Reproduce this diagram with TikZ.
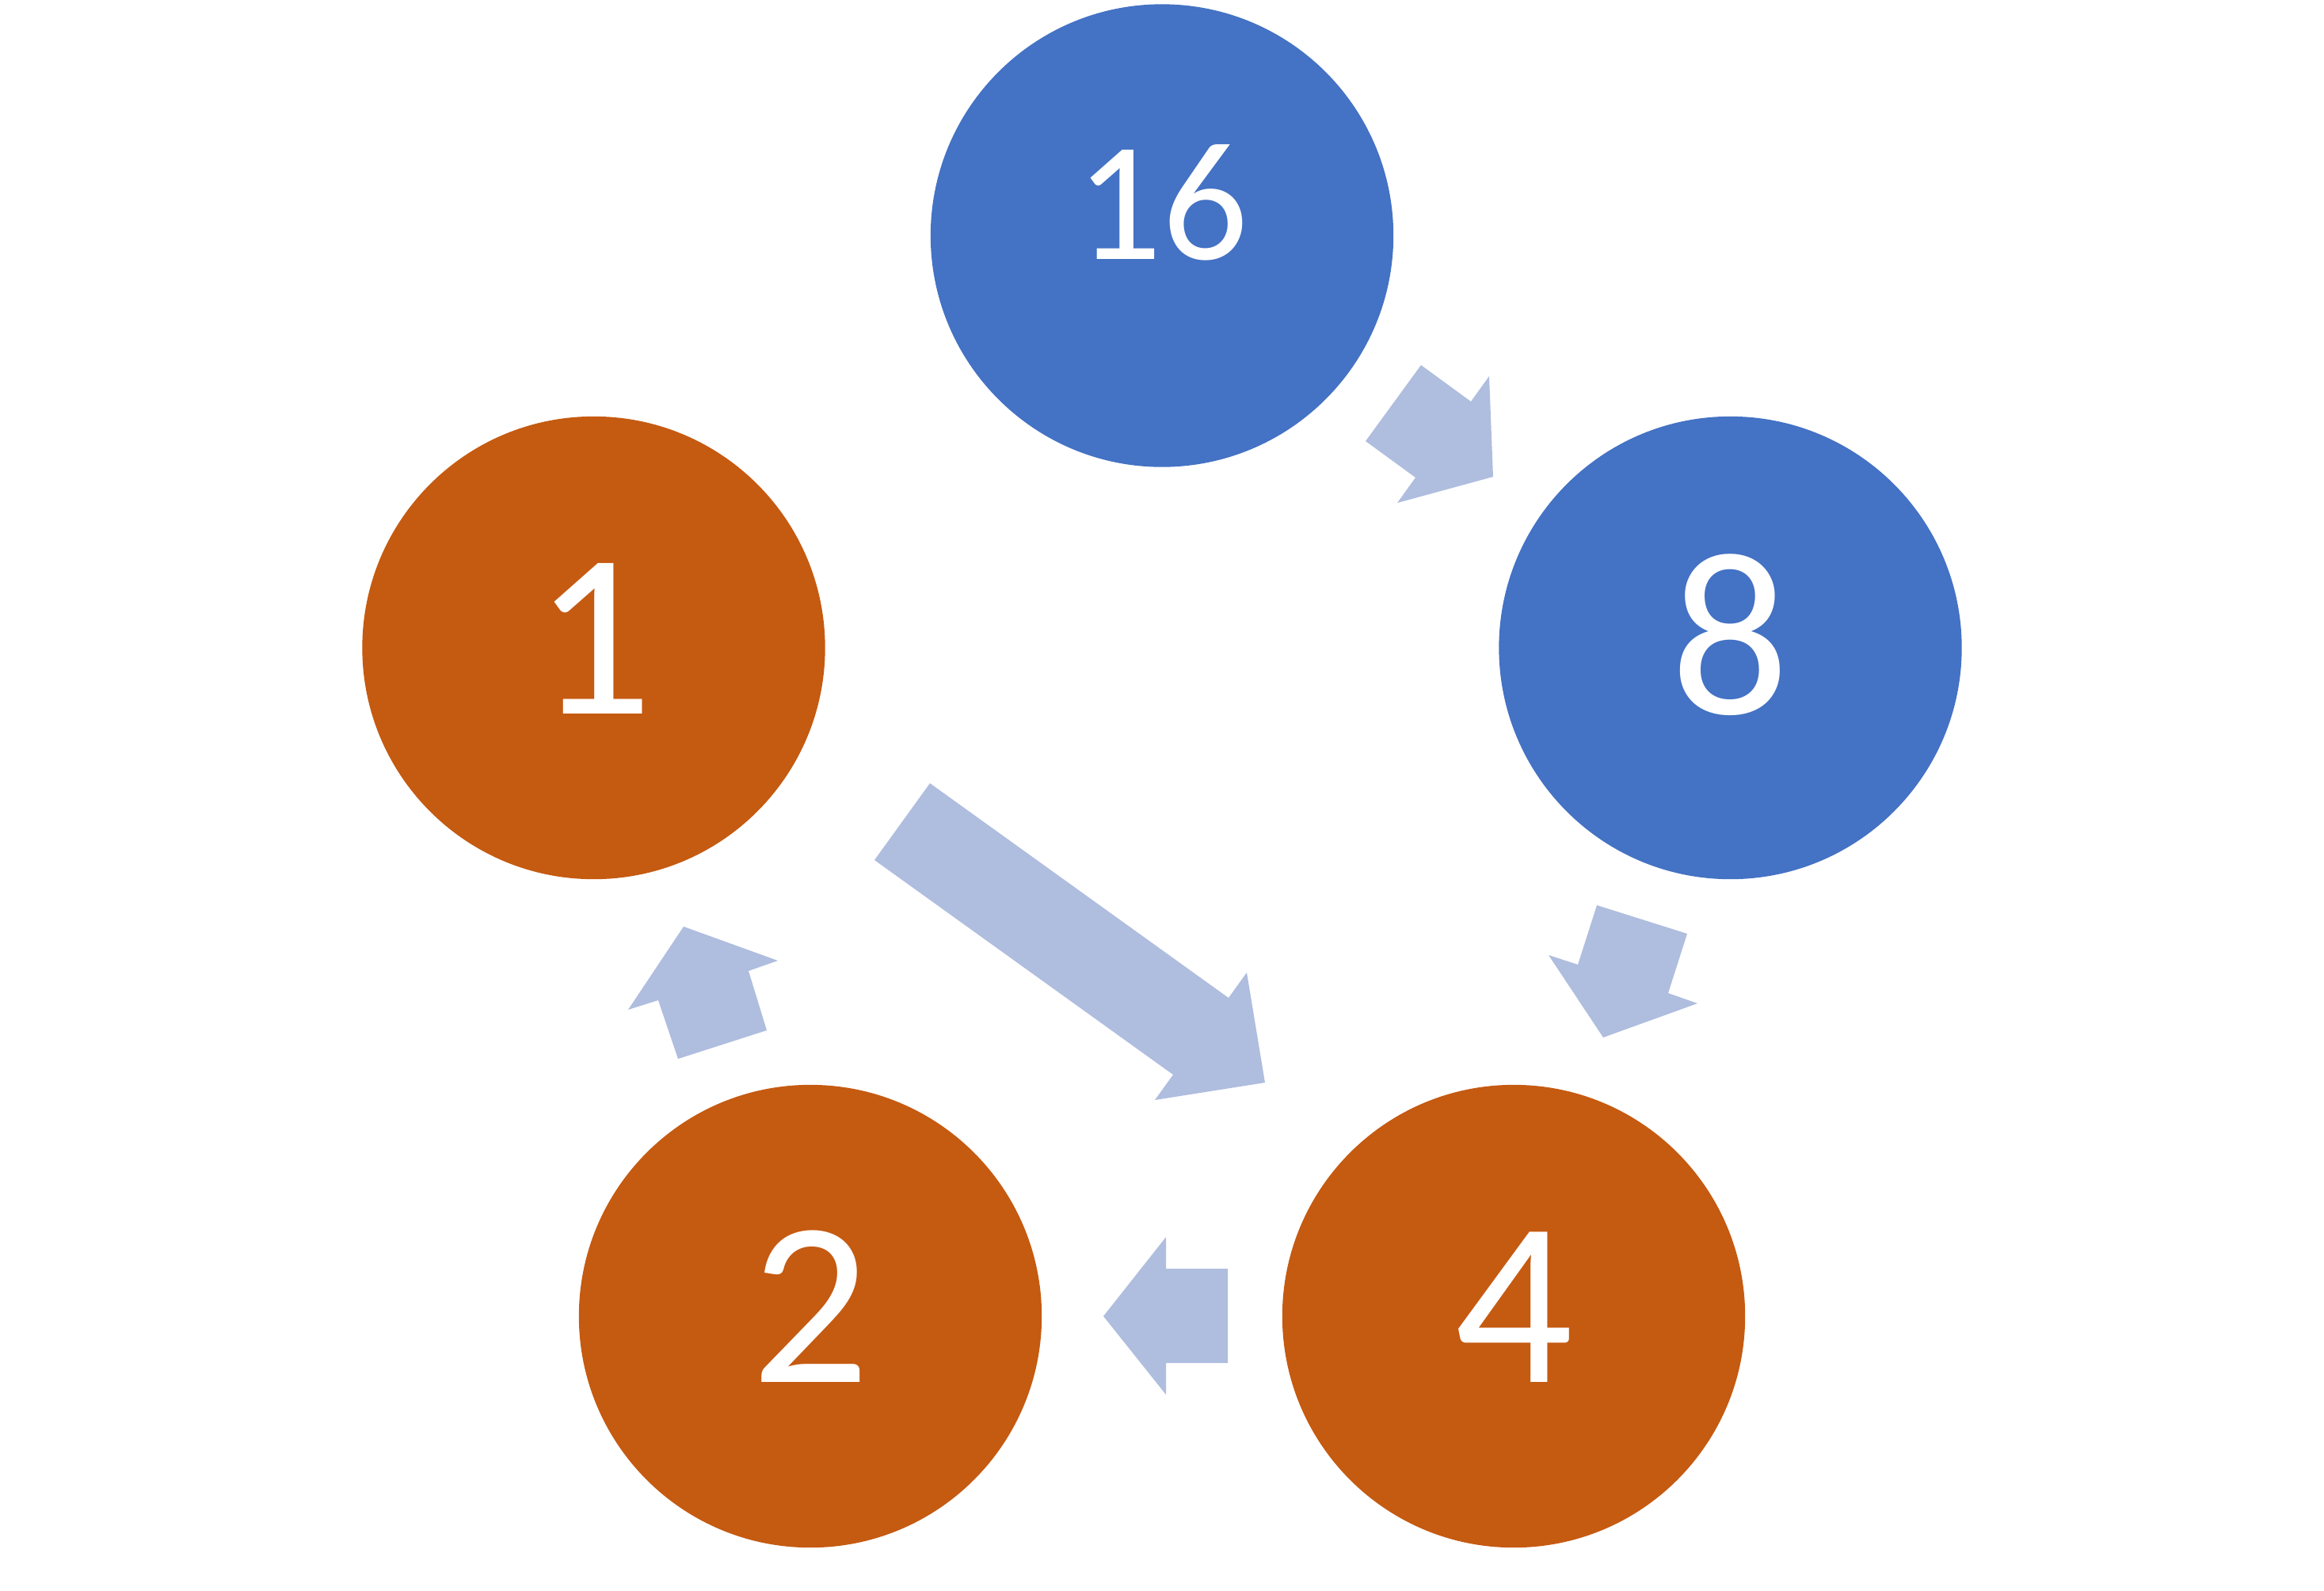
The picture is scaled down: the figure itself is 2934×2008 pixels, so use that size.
\documentclass[tikz,border=0pt]{standalone}
\usepackage{fontspec}
\setmainfont{Carlito}
\definecolor{cblue}{HTML}{4472C4}
\definecolor{corange}{HTML}{C55A11}
\definecolor{carrow}{RGB}{175,189,222}
\begin{document}
\begin{tikzpicture}[x=0.01cm,y=-0.01cm,
  num/.style={circle,minimum size=5.84cm,inner sep=0pt,draw=none},
  lbl/.style={text=white,font=\fontsize{84}{84}\selectfont,anchor=base,inner sep=0pt},
  lblsmall/.style={text=white,font=\fontsize{61}{61}\selectfont,anchor=base,inner sep=0pt},
  blockarrow/.style={fill=carrow,draw=none}]
\useasboundingbox (0,0) rectangle (2934,2008);
% circles
\node[num,fill=cblue]   (n16) at (1467,297.5) {};
\node[num,fill=corange] (n1)  at (749.5,818) {};
\node[num,fill=cblue]   (n8)  at (2184.5,818) {};
\node[num,fill=corange] (n2)  at (1023,1662) {};
\node[num,fill=corange] (n4)  at (1911,1662) {};
% labels
\node[lblsmall] (t16) at ([yshift=-0.30cm]n16.center) {16};
\node[lbl] (t1)  at ([yshift=-0.83cm]n1.center) {1};
\node[lbl] (t8)  at ([yshift=-0.83cm]n8.center) {8};
\node[lbl] (t2)  at ([yshift=-0.83cm]n2.center) {2};
\node[lbl] (t4)  at ([yshift=-0.83cm]n4.center) {4};
% block arrows
\fill[blockarrow] (1794,461) -- (1857,507) -- (1880,475) -- (1885,602) -- (1764,635) -- (1787,603) -- (1724,557) -- cycle;
\fill[blockarrow] (2016,1143) -- (2130,1179) -- (2106,1254) -- (2143,1267) -- (2024,1310) -- (1955,1206) -- (1992,1218) -- cycle;
\fill[blockarrow] (1550,1602) -- (1472,1602) -- (1472,1562) -- (1393,1662) -- (1472,1761) -- (1472,1721) -- (1550,1721) -- cycle;
\fill[blockarrow] (968,1301) -- (856,1337) -- (831,1263) -- (793,1275) -- (863,1170) -- (982,1213) -- (945,1226) -- cycle;
\fill[blockarrow] (1174,989) -- (1551,1260) -- (1574,1228) -- (1597,1367) -- (1458,1389) -- (1481,1357) -- (1104,1086) -- cycle;
\end{tikzpicture}
\end{document}
